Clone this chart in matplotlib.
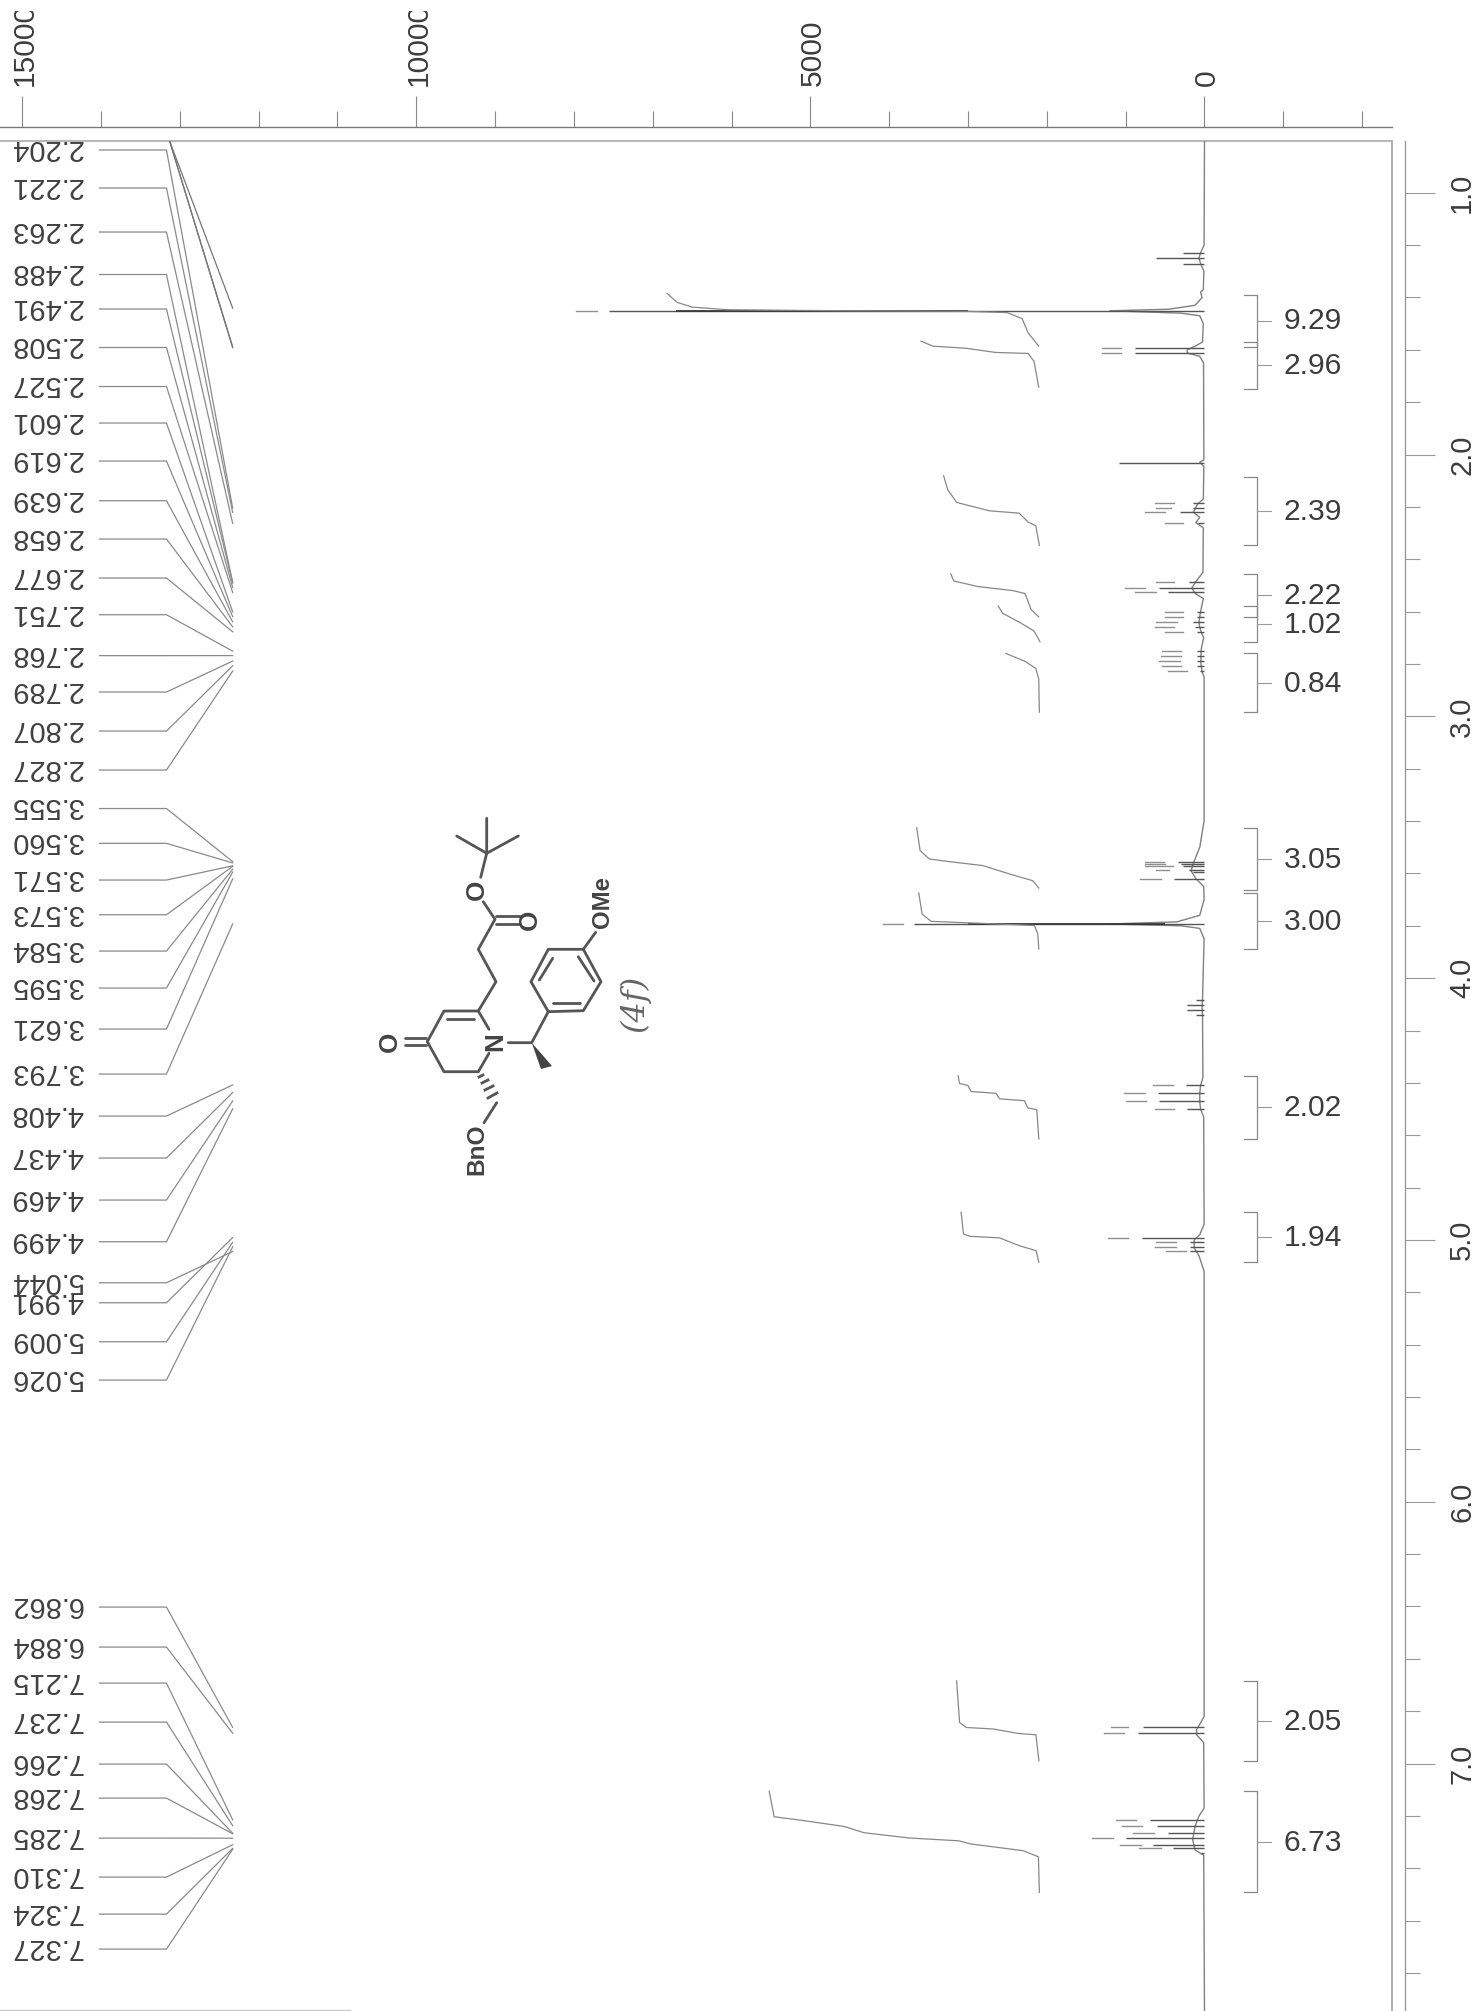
import matplotlib
matplotlib.use("Agg")
import matplotlib.pyplot as plt
from matplotlib.transforms import Bbox, ScaledTranslation

plt.rcParams['font.family'] = ['Liberation Sans', 'DejaVu Sans']

PX = 0.72  # one pixel in points at dpi 100

# chemical shift peak list printed on the left
peak_labels = ['2.204', '2.221', '2.263', '2.488', '2.491', '2.508', '2.527', '2.601',
               '2.619', '2.639', '2.658', '2.677', '2.751', '2.768', '2.789', '2.807',
               '2.827', '3.555', '3.560', '3.571', '3.573', '3.584', '3.595', '3.621',
               '3.793', '4.408', '4.437', '4.469', '4.499', '5.044', '4.991', '5.009',
               '5.026', '6.862', '6.884', '7.215', '7.237', '7.266', '7.268', '7.285',
               '7.310', '7.324', '7.327']
label_rows = [150, 188, 232, 274.5, 309, 347.5, 386.5, 423, 461, 500.7, 539, 578, 614.7,
              655.6, 692, 731, 770, 808.5, 843.3, 880, 914.7, 951, 988, 1029, 1074, 1116,
              1158, 1200, 1241.7, 1282.7, 1302.7, 1341.7, 1380, 1607, 1647, 1683, 1722,
              1764, 1798, 1838, 1877, 1914, 1949]
# lines coming in from labels cut off above the page
offpage_peaks = [1.441, 1.589, 1.592]

# peaks: where they sit, inner solid part, and the faint outer fragment of the stick
peak_ppm = [1.232, 1.249, 1.272, 1.451, 1.593, 1.612, 2.033, 2.187, 2.204, 2.221, 2.263,
            2.488, 2.508, 2.527, 2.601, 2.619, 2.639, 2.658, 2.677, 2.751, 2.768, 2.789,
            2.807, 2.827, 3.555, 3.564, 3.573, 3.587, 3.595, 3.621, 3.792, 4.082, 4.101,
            4.121, 4.139, 4.408, 4.438, 4.470, 4.499, 4.991, 5.009, 5.026, 5.044, 6.862,
            6.884, 7.215, 7.237, 7.267, 7.285, 7.310, 7.324, 7.340]
peak_inner = [277, 616, 277, 7558, 880, 880, 1084, 150, 150, 314, 88, 200, 578, 465, 90,
              90, 150, 120, 90, 90, 90, 90, 90, 60, 338, 300, 275, 200, 150, 381, 3680,
              106, 224, 224, 106, 233, 592, 571, 224, 791, 190, 190, 190, 779, 842, 697,
              602, 462, 1000, 652, 399, 40]
peak_outer_from = [0, 0, 0, 7708, 1054, 1054, 0, 390, 428, 503, 277, 390, 752, 616, 277,
                   277, 352, 390, 277, 299, 299, 314, 299, 224, 508, 500, 402, 444, 0,
                   550, 3828, 0, 0, 0, 0, 402, 761, 740, 381, 973, 360, 360, 233, 969,
                   1019, 874, 791, 640, 1158, 810, 557, 0]
peak_outer_to = [0, 0, 0, 7972, 1295, 1295, 0, 631, 616, 752, 503, 616, 1008, 880, 503,
                 503, 616, 631, 503, 541, 556, 578, 541, 465, 761, 760, 761, 613, 0,
                 816, 4082, 0, 0, 0, 0, 656, 1015, 994, 634, 1227, 613, 622, 487, 1190,
                 1272, 1127, 1045, 905, 1424, 1076, 830, 0]
# the dark middle stretch of the two tall singlets
tall_ppm = [1.451, 3.792]
tall_from = [3000, 500]
tall_to = [6700, 3000]

# the spectrum trace close to the baseline
trace_ppm = [0.80, 1.20, 1.23, 1.25, 1.27, 1.30, 1.37, 1.38, 1.40, 1.43, 1.445, 1.451,
             1.46, 1.47, 1.50, 1.57, 1.585, 1.60, 1.612, 1.625, 1.65, 2.02, 2.03, 2.045,
             2.17, 2.19, 2.22, 2.24, 2.26, 2.28, 2.45, 2.49, 2.51, 2.53, 2.55, 2.60,
             2.64, 2.66, 2.68, 2.70, 2.74, 2.77, 2.80, 2.83, 2.85, 3.40, 3.50, 3.53, 3.56,
             3.59, 3.62, 3.65, 3.70, 3.76, 3.785, 3.793, 3.80, 3.81, 3.85, 4.08, 4.11,
             4.14, 4.38, 4.41, 4.44, 4.47, 4.50, 4.53, 4.94, 4.98, 5.00, 5.03, 5.06, 5.12,
             6.82, 6.85, 6.87, 6.89, 6.92, 7.17, 7.20, 7.24, 7.29, 7.33, 7.35, 7.95]
trace_int = [0, 5, 50, 70, 50, 8, 15, 50, 30, 120, 450, 1200, 300, 60, 15, 25, 110, 220,
             220, 60, 12, 8, 60, 8, 15, 90, 140, 60, 110, 15, 20, 120, 160, 120, 15, 50,
             70, 60, 40, 10, 40, 45, 45, 30, 5, 5, 60, 100, 140, 170, 110, 10, 5, 60, 350,
             1200, 300, 60, 5, 25, 30, 25, 20, 50, 60, 60, 50, 10, 5, 60, 130, 130, 70,
             5, 5, 60, 100, 100, 10, 5, 70, 120, 150, 120, 10, 0]

# integral curves, one pair of arrays each
int1_ppm = [1.385, 1.419, 1.437, 1.447, 1.451, 1.453, 1.458, 1.481, 1.535, 1.586]
int1_val = [6818, 6690, 6501, 6048, 4540, 3030, 2502, 2314, 2238, 2103]
int2_ppm = [1.567, 1.586, 1.594, 1.610, 1.614, 1.644, 1.743]
int2_val = [3596, 3446, 3030, 2653, 2238, 2163, 2103]
int3_ppm = [2.081, 2.135, 2.183, 2.215, 2.224, 2.258, 2.272, 2.347]
int3_val = [3310, 3257, 3144, 2729, 2352, 2238, 2140, 2095]
int4_ppm = [2.456, 2.483, 2.504, 2.520, 2.531, 2.592, 2.620]
int4_val = [3219, 3181, 2880, 2427, 2276, 2200, 2103]
int5_ppm = [2.579, 2.606, 2.640, 2.674, 2.715]
int5_val = [2616, 2563, 2351, 2163, 2088]
int6_ppm = [2.760, 2.790, 2.817, 2.858, 2.984]
int6_val = [2518, 2276, 2140, 2103, 2095]
int7_ppm = [3.426, 3.513, 3.545, 3.555, 3.570, 3.602, 3.628, 3.656]
int7_val = [3651, 3608, 3490, 3236, 2813, 2475, 2178, 2102]
int8_ppm = [3.675, 3.755, 3.783, 3.796, 3.799, 3.831, 3.889]
int8_val = [3625, 3583, 3469, 2390, 2157, 2115, 2102]
int9_ppm = [4.372, 4.402, 4.410, 4.433, 4.440, 4.461, 4.468, 4.496, 4.502, 4.614]
int9_val = [3126, 3109, 3003, 2961, 2644, 2601, 2284, 2242, 2128, 2102]
int10_ppm = [4.894, 4.977, 4.986, 4.992, 5.022, 5.041, 5.085]
int10_val = [3088, 3058, 2982, 2601, 2348, 2136, 2102]
int11_ppm = [6.684, 6.843, 6.862, 6.868, 6.885, 6.890, 6.989]
int11_val = [3145, 3107, 3025, 2677, 2360, 2139, 2101]
int12_ppm = [7.106, 7.203, 7.218, 7.240, 7.264, 7.284, 7.295, 7.307, 7.333, 7.356, 7.492]
int12_val = [5523, 5460, 5081, 4574, 4321, 3752, 3119, 2961, 2297, 2107, 2095]

# integration brackets
bracket_start = [1.389, 1.569, 2.084, 2.456, 2.579, 2.760, 3.426, 3.675, 4.372, 4.894, 6.684, 7.106]
bracket_end = [1.588, 1.750, 2.347, 2.620, 2.715, 2.984, 3.662, 3.889, 4.614, 5.085, 6.989, 7.492]
bracket_labels = ['9.29', '2.96', '2.39', '2.22', '1.02', '0.84', '3.05', '3.00', '2.02', '1.94', '2.05', '6.73']

intensity_ticks = [15000, 10000, 5000, 0]
intensity_minor = [14000, 13000, 12000, 11000, 9000, 8000, 7000, 6000, 4000, 3000, 2000, 1000, -1000, -2000]
ppm_ticks = [1, 2, 3, 4, 5, 6, 7]
ppm_minor = [1.2, 1.4, 1.6, 1.8, 2.2, 2.4, 2.6, 2.8, 3.2, 3.4, 3.6, 3.8, 4.2, 4.4, 4.6, 4.8,
             5.2, 5.4, 5.6, 5.8, 6.2, 6.4, 6.6, 6.8, 7.2, 7.4, 7.6, 7.8]

W, H = 1481, 2011
fig = plt.figure(figsize=(W / 100, H / 100), dpi=100)
ax = fig.add_axes([0, 0, 1392 / W, (H - 141) / H])
ax.set_xlim(15282, -2379)
ax.set_ylim(7.945, 0.8025)
ax.patch.set_visible(False)

for side in ['left', 'bottom']:
    ax.spines[side].set_visible(False)
ax.spines['top'].set_position(('outward', 13.7 * PX))
ax.spines['right'].set_position(('outward', 13 * PX))
ax.spines['top'].set_color('#777777')
ax.spines['top'].set_linewidth(1.0)
ax.spines['right'].set_color('#999999')
ax.spines['right'].set_linewidth(1.0)

ax.xaxis.set_ticks_position('top')
ax.yaxis.set_ticks_position('right')
ax.set_xticks(intensity_ticks)
ax.set_xticks(intensity_minor, minor=True)
ax.set_yticks(ppm_ticks)
ax.set_yticks(ppm_minor, minor=True)
ax.set_xticklabels([str(v) for v in intensity_ticks], fontsize=30 * PX, color='#3c3c3c')
ax.set_yticklabels(['%.1f' % v for v in ppm_ticks], fontsize=29 * PX, color='#3c3c3c')
ax.tick_params(axis='x', which='major', length=31 * PX, width=0.8, color='#888888', pad=10 * PX, labelrotation=90)
ax.tick_params(axis='x', which='minor', length=16 * PX, width=0.8, color='#888888')
ax.tick_params(axis='y', which='major', length=30 * PX, width=0.8, color='#999999', pad=13 * PX, labelrotation=90)
ax.tick_params(axis='y', which='minor', length=15 * PX, width=0.8, color='#999999')
for lab in ax.get_yticklabels():
    lab.set_va('center')
# the two widest labels are cut by the edge of the scan
nudge = ScaledTranslation(2.5 / 100, 0, fig.dpi_scale_trans)
for lab in ax.get_xticklabels():
    lab.set_transform(lab.get_transform() + nudge)
    lab.set_clip_on(True)
    lab.set_clip_box(Bbox([[0, 0], [W, H - 11]]))

# inner frame
ax.axhline(0.8025, color='#aaaaaa', lw=1.2, clip_on=False)
ax.axvline(-2379, color='#aaaaaa', lw=1.3, clip_on=False)

# spectrum
ax.plot(trace_int, trace_ppm, color='#808080', lw=1.0)
ax.hlines(peak_ppm, 0, peak_inner, color='#555555', lw=1.0)
for p, a, b in zip(peak_ppm, peak_outer_from, peak_outer_to):
    if b > 0:
        ax.plot([a, b], [p, p], color='#8f8f8f', lw=1.0)
ax.hlines(tall_ppm, tall_from, tall_to, color='#3a3a3a', lw=1.3)

# integrals
integrals = [(int1_val, int1_ppm), (int2_val, int2_ppm), (int3_val, int3_ppm), (int4_val, int4_ppm),
             (int5_val, int5_ppm), (int6_val, int6_ppm), (int7_val, int7_ppm), (int8_val, int8_ppm),
             (int9_val, int9_ppm), (int10_val, int10_ppm), (int11_val, int11_ppm), (int12_val, int12_ppm)]
for vals, ppms in integrals:
    ax.plot(vals, ppms, color='#888888', lw=0.9)

for start, end, text in zip(bracket_start, bracket_end, bracket_labels):
    mid = (start + end) / 2
    ax.plot([-500, -665, -665, -500], [start, start, end, end], color='#888888', lw=0.9)
    ax.plot([-665, -840], [mid, mid], color='#999999', lw=0.8)
    ax.text(-1005, mid + 0.003, text, fontsize=30 * PX, color='#3c3c3c', ha='left', va='center')


def ppm_of_row(row):
    return 1 + (row - 192.7) / 261.8


# peak labels upside down, with their connectors
for text, row, shift in zip(peak_labels, label_rows, [float(s) for s in peak_labels]):
    y = ppm_of_row(row)
    ax.text(14230, y - 0.008, text, rotation=180, fontsize=29 * PX, color='#404040', ha='right', va='center')
    ax.plot([14020, 13170, 12330], [y, y, shift], color='#8a8a8a', lw=0.9)
for p in offpage_peaks:
    ax.plot([13130, 12330], [0.8025, p], color='#777777', lw=0.9)

# structure drawn in page pixels
page = fig.add_axes([0, 0, 1, 1])
page.set_xlim(0, W)
page.set_ylim(H, 0)
page.axis('off')

bonds = [
    [(405, 1038.3), (426, 1038.3)], [(405, 1045), (426, 1045)],
    [(427.3, 1041.7), (444, 1011), (478.3, 1011), (489, 1029.3)],
    [(447.3, 1019), (474, 1019)],
    [(427.3, 1041.7), (444, 1071.7), (478.3, 1071.7), (489, 1053.3)],
    [(478.3, 1011), (496, 981.7), (478.3, 949.3), (495, 919.3), (483.3, 901.7)],
    [(496, 916), (520, 916)], [(496, 924), (520, 924)],
    [(480.7, 877.3), (486.7, 853.3), (486.7, 818.3)],
    [(456.7, 836), (486.7, 853.3), (518.3, 836)],
    [(508.3, 1042.7), (531.7, 1042.7), (548.3, 1011.7)],
    [(548.3, 1011.7), (531, 981.7), (548.3, 949.3), (583.3, 949.3), (601, 981.7), (583.3, 1010.7), (548.3, 1011.7)],
    [(539.3, 980), (552.7, 958.3)], [(578.3, 956.7), (594, 981)], [(552.7, 1003.3), (580, 1003.3)],
    [(583.3, 949.3), (595.7, 932.3)],
    [(496.7, 1102.7), (484, 1122.7)],
]
for bond in bonds:
    page.plot([p[0] for p in bond], [p[1] for p in bond], color='#555555', lw=2.0, solid_capstyle='round')
# wedge and hashes
page.fill([531.7, 541, 552], [1042.7, 1069, 1066], color='#444444', lw=0)
hash_rows = [((479, 1077), (483, 1075)), ((482, 1083), (488, 1080)), ((485, 1090), (493, 1086)), ((488, 1098), (497, 1093))]
for a, b in hash_rows:
    page.plot([a[0], b[0]], [a[1], b[1]], color='#555555', lw=2.0)

atoms = [('O', 390, 1042), ('N', 495, 1041.7), ('O', 530, 920), ('O', 477.3, 890)]
for text, x, y in atoms:
    page.text(x, y, text, rotation=90, fontsize=26 * PX, color='#444444', ha='center', va='center', weight='bold')
page.text(477, 1149.6, 'BnO', rotation=90, fontsize=24.5 * PX, color='#444444', ha='center', va='center', weight='bold')
page.text(602.7, 902.5, 'OMe', rotation=90, fontsize=24 * PX, color='#444444', ha='center', va='center', weight='bold')
page.text(635, 1003, '(4f)', rotation=90, fontsize=32 * PX, color='#666666', ha='center', va='center',
          family='DejaVu Serif', style='italic')

# edge of the scan
page.plot([0, 350], [2010, 2010], color='#cccccc', lw=1.0)

fig.savefig('out.png', dpi=100)
